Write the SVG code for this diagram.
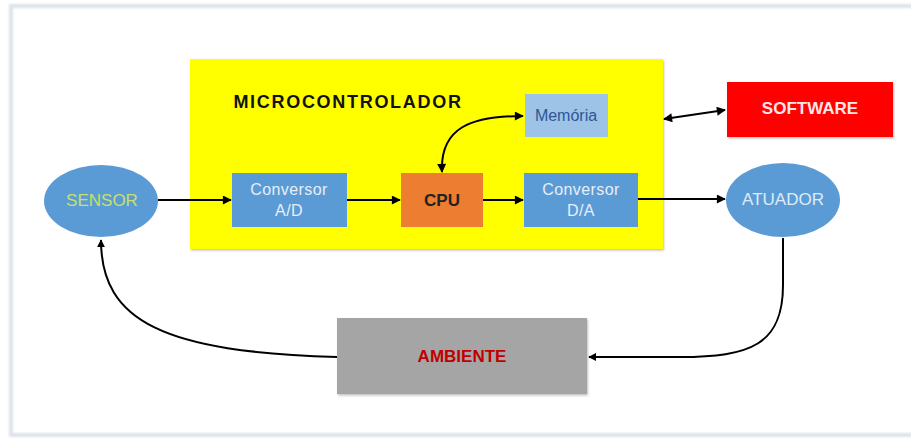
<svg xmlns="http://www.w3.org/2000/svg" width="911" height="438" viewBox="0 0 911 438">
<defs>
<marker id="ah" viewBox="0 0 10 10" refX="9" refY="5" markerWidth="10" markerHeight="9" orient="auto-start-reverse" markerUnits="userSpaceOnUse">
<path d="M0,0 L10,5 L0,10 z" fill="#000"/>
</marker>
<marker id="ahc" viewBox="0 0 10 10" refX="9" refY="5" markerWidth="8" markerHeight="8" orient="auto-start-reverse" markerUnits="userSpaceOnUse">
<path d="M0,0 L10,5 L0,10 z" fill="#000"/>
</marker>
<filter id="sh" x="-5%" y="-5%" width="110%" height="115%">
<feDropShadow dx="1" dy="1.5" stdDeviation="1.2" flood-color="#000" flood-opacity="0.25"/>
</filter>
<filter id="bl"><feGaussianBlur stdDeviation="1.2"/></filter>
</defs>
<style>
text{font-family:"Liberation Sans",Arial,sans-serif;text-anchor:middle;dominant-baseline:central}
.conn{fill:none;stroke:#000;stroke-width:2}
.box{filter:url(#sh)}
.lbl{font-size:16px;fill:#e8eef8;letter-spacing:0.4px}
</style>
<rect width="911" height="438" fill="#fff"/>
<path d="M915,6 L11,6 L11,435 L915,435" fill="none" stroke="#dde3ea" stroke-width="4" filter="url(#bl)"/>

<g id="microcontrolador">
<rect class="box" x="190" y="59" width="473" height="190" fill="#ffff00"/>
<text x="348" y="102" font-size="18" font-weight="bold" fill="#111" letter-spacing="1.7">MICROCONTROLADOR</text>
</g>
<g id="memoria">
<rect x="525" y="94" width="83" height="43" fill="#9dc3e6"/>
<text x="566" y="115" font-size="16" fill="#2f5597">Memória</text>
</g>
<g id="conversor-ad">
<rect x="232" y="173" width="115" height="54" fill="#5b9bd5"/>
<text class="lbl" x="289" y="189">Conversor</text>
<text class="lbl" x="289" y="210">A/D</text>
</g>
<g id="cpu">
<rect x="401" y="173" width="82" height="54" fill="#ed7d31"/>
<text x="442" y="200" font-size="17" font-weight="bold" fill="#222">CPU</text>
</g>
<g id="conversor-da">
<rect x="524" y="173" width="114" height="54" fill="#5b9bd5"/>
<text class="lbl" x="581" y="189">Conversor</text>
<text class="lbl" x="581" y="210">D/A</text>
</g>
<g id="sensor">
<ellipse cx="101" cy="201" rx="57" ry="36" fill="#5b9bd5"/>
<text x="102" y="200" font-size="17" fill="#c7e06a">SENSOR</text>
</g>
<g id="atuador">
<ellipse cx="783" cy="200" rx="57" ry="37" fill="#5b9bd5"/>
<text x="783" y="199" font-size="17" fill="#deebf7">ATUADOR</text>
</g>
<g id="software">
<rect class="box" x="727" y="82" width="166" height="55" fill="#ff0000"/>
<text x="810" y="108" font-size="17" font-weight="bold" fill="#ffe6e6">SOFTWARE</text>
</g>
<g id="ambiente">
<rect class="box" x="337" y="318" width="250" height="76" fill="#a5a5a5"/>
<text x="462" y="356" font-size="17" font-weight="bold" fill="#c00000">AMBIENTE</text>
</g>

<g id="connectors">
<path class="conn" d="M158,200 L231,200" marker-end="url(#ah)"/>
<path class="conn" d="M347,200 L400,200" marker-end="url(#ah)"/>
<path class="conn" d="M483,200 L523,200" marker-end="url(#ah)"/>
<path class="conn" d="M638,199 L725,199" marker-end="url(#ah)"/>
<path class="conn" d="M442,172 C440,128 470,116 523,116" marker-start="url(#ah)" marker-end="url(#ah)"/>
<path class="conn" d="M664,119 L725,110" marker-start="url(#ah)" marker-end="url(#ah)"/>
<path class="conn" d="M783,238 L783,285 C783,345 750,357 680,357 L589,357" marker-end="url(#ahc)"/>
<path class="conn" d="M337,357 C165,352 101,322 101,240" marker-end="url(#ahc)"/>
</g>
</svg>
